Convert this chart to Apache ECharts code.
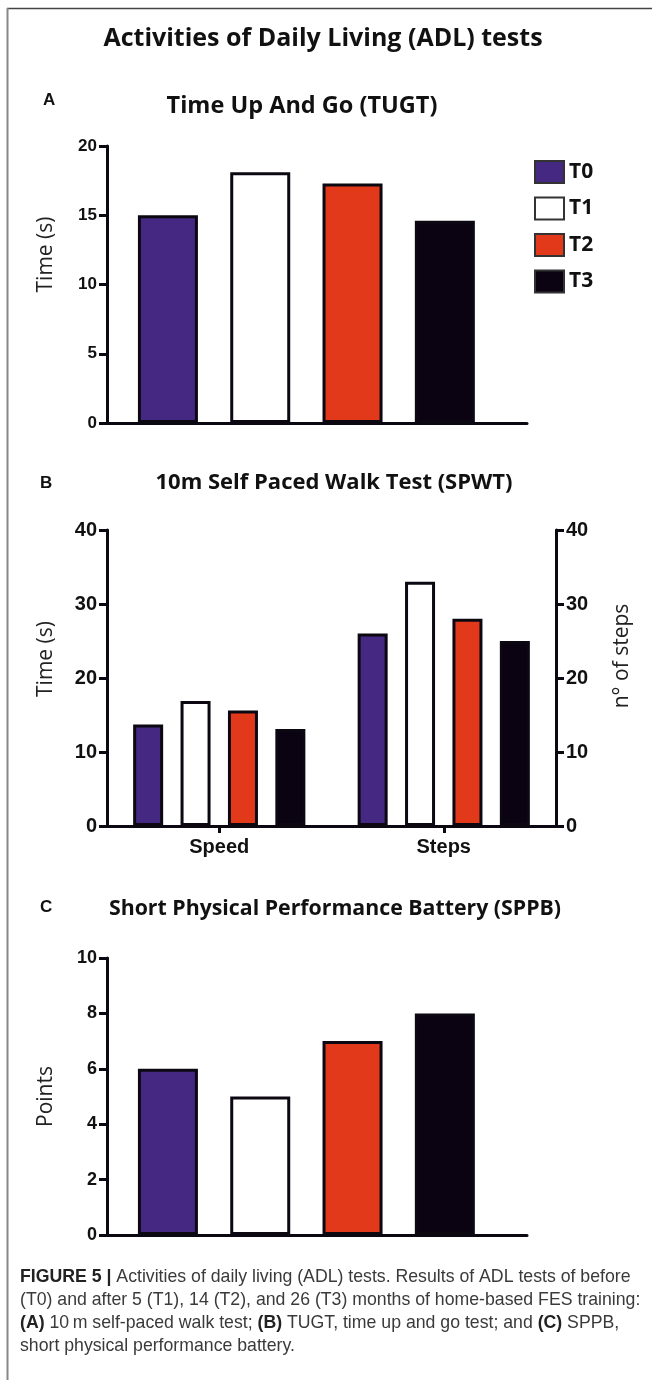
<!DOCTYPE html>
<html>
<head>
<meta charset="utf-8">
<script src="https://cdn.jsdelivr.net/npm/echarts@6/dist/echarts.min.js"></script>
<style>
  html, body { margin: 0; padding: 0; background: #ffffff; }
  #chart { width: 652px; height: 1380px; }
</style>
</head>
<body>
<div id="chart"></div>
<script>
// ---------- data ----------
const groups = ['T0', 'T1', 'T2', 'T3'];
const groupPositions = [1, 2, 3, 4];
const tugtTime = [15.0, 18.1, 17.3, 14.6];
const spwtCategories = ['Speed', 'Steps'];
const spwtSpeedTime = [13.7, 16.9, 15.6, 13.1];
const spwtSteps = [26, 33, 28, 25];
const sppbPoints = [6, 5, 7, 8];
const tugtTicks = [0, 20, 5];
const spwtTicks = [0, 40, 10];
const sppbTicks = [0, 10, 2];

// ---------- style ----------
const fills = ['#452882', '#ffffff', '#e2391b', '#0b0312'];
const edge = '#0c0812';
const tickFont = 'Liberation Sans, Arial, sans-serif';
const titleFont = 'Open Sans, sans-serif';

const chart = echarts.init(document.getElementById('chart'), null, { renderer: 'canvas' });

function yAxisBase(ticks, size) {
  return {
    type: 'value', min: ticks[0], max: ticks[1], interval: ticks[2],
    axisLine: { show: true, lineStyle: { color: edge, width: 3 } },
    axisTick: { show: true, length: 8, lineStyle: { color: edge, width: 3 } },
    axisLabel: { color: '#111', fontFamily: tickFont, fontWeight: 'bold', fontSize: size, margin: 10 },
    splitLine: { show: false },
    nameLocation: 'middle', nameRotate: 90,
    nameTextStyle: { fontFamily: titleFont, fontSize: 21, color: '#222' }
  };
}

const series = [];
groups.forEach((g, i) => {
  series.push({
    name: g, type: 'bar', xAxisIndex: 0, yAxisIndex: 0,
    data: [[groupPositions[i], tugtTime[i]]],
    barWidth: 60, barGap: '-100%',
    itemStyle: { color: fills[i], borderColor: edge, borderWidth: 3 }
  });
  series.push({
    name: g, type: 'bar', xAxisIndex: 1, yAxisIndex: 1,
    data: [spwtSpeedTime[i], spwtSteps[i]],
    barWidth: 30, barGap: '58%',
    itemStyle: { color: fills[i], borderColor: edge, borderWidth: 3 }
  });
  series.push({
    name: g, type: 'bar', xAxisIndex: 2, yAxisIndex: 3,
    data: [[groupPositions[i], sppbPoints[i]]],
    barWidth: 60, barGap: '-100%',
    itemStyle: { color: fills[i], borderColor: edge, borderWidth: 3 }
  });
});

const captionLines = [
  [['b', 'FIGURE 5 | '], ['r', 'Activities of daily living (ADL) tests. Results of ADL tests of before']],
  [['r', '(T0) and after 5 (T1), 14 (T2), and 26 (T3) months of home-based FES training:']],
  [['b', '(A) '], ['r', '10\u2009m self-paced walk test; '], ['b', '(B) '], ['r', 'TUGT, time up and go test; and '], ['b', '(C) '], ['r', 'SPPB,']],
  [['r', 'short physical performance battery.']]
];
const captionY = [1279, 1302, 1325, 1348];

const graphics = [
  { type: 'line', shape: { x1: 7, y1: 8.5, x2: 652, y2: 8.5 }, style: { stroke: '#444', lineWidth: 1.5 } },
  { type: 'line', shape: { x1: 7.5, y1: 8, x2: 7.5, y2: 1380 }, style: { stroke: '#888', lineWidth: 2 } }
];
captionLines.forEach((parts, k) => {
  graphics.push({
    type: 'text', left: 20, top: captionY[k] - 11,
    style: {
      text: parts.map(p => '{' + p[0] + '|' + p[1] + '}').join(''),
      rich: {
        b: { fontFamily: tickFont, fontWeight: 'bold', fontSize: 17.7, fill: '#222', lineHeight: 22 },
        r: { fontFamily: tickFont, fontSize: 17.7, fill: '#3a3a3a', lineHeight: 22 }
      }
    }
  });
});

function ttl(text, x, top, size, font, align) {
  return { text: text, left: x, top: top, textAlign: align, padding: 0,
    textStyle: { fontFamily: font, fontWeight: 'bold', fontSize: size, lineHeight: size, color: '#111' } };
}

const option = {
  animation: false,
  backgroundColor: '#ffffff',
  title: [
    ttl('Activities of Daily Living (ADL) tests', 323, 26.5, 25, titleFont, 'center'),
    ttl('A', 43, 92, 17, tickFont, 'left'),
    ttl('Time Up And Go (TUGT)', 302, 94.5, 23.5, titleFont, 'center'),
    ttl('B', 40, 475, 17, tickFont, 'left'),
    ttl('10m Self Paced Walk Test (SPWT)', 334, 471.5, 22, titleFont, 'center'),
    ttl('C', 40, 899, 17, tickFont, 'left'),
    ttl('Short Physical Performance Battery (SPPB)', 335, 898.5, 21.3, titleFont, 'center')
  ],
  legend: {
    data: groups, orient: 'vertical', left: 534, top: 160, padding: 0,
    itemWidth: 29, itemHeight: 22, itemGap: 12.5, icon: 'rect',
    itemStyle: { borderColor: '#333', borderWidth: 2 },
    textStyle: { fontFamily: titleFont, fontWeight: 'bold', fontSize: 21, lineHeight: 22, color: '#111' },
    selectedMode: false
  },
  grid: [
    { left: 107, top: 146, width: 420, height: 277 },
    { left: 107, top: 530, width: 449, height: 296 },
    { left: 107, top: 958, width: 420, height: 277 }
  ],
  xAxis: [
    { type: 'value', gridIndex: 0, min: 0.34, max: 4.89,
      axisLine: { show: true, onZero: false, lineStyle: { color: edge, width: 3 } },
      axisTick: { show: false }, axisLabel: { show: false }, splitLine: { show: false } },
    { type: 'category', gridIndex: 1, data: spwtCategories,
      axisLine: { show: true, lineStyle: { color: edge, width: 3 } },
      axisTick: { show: true, alignWithLabel: true, length: 7, lineStyle: { color: edge, width: 3 } },
      axisLabel: { color: '#111', fontFamily: tickFont, fontWeight: 'bold', fontSize: 20, margin: 11 } },
    { type: 'value', gridIndex: 2, min: 0.34, max: 4.89,
      axisLine: { show: true, onZero: false, lineStyle: { color: edge, width: 3 } },
      axisTick: { show: false }, axisLabel: { show: false }, splitLine: { show: false } }
  ],
  yAxis: [
    Object.assign(yAxisBase(tugtTicks, 17), { gridIndex: 0, name: 'Time (s)', nameGap: 50,
      nameTextStyle: { fontFamily: titleFont, fontSize: 21, color: '#222', padding: [0, 0, 0, 60] } }),
    Object.assign(yAxisBase(spwtTicks, 20), { gridIndex: 1, name: 'Time (s)', nameGap: 50,
      nameTextStyle: { fontFamily: titleFont, fontSize: 21, color: '#222', padding: [0, 0, 0, 38] } }),
    Object.assign(yAxisBase(spwtTicks, 20), { gridIndex: 1, position: 'right', name: 'n\u00b0 of steps', nameGap: 56,
      nameTextStyle: { fontFamily: titleFont, fontSize: 21, color: '#222', padding: [0, 0, 0, 44] } }),
    Object.assign(yAxisBase(sppbTicks, 18), { gridIndex: 2, name: 'Points', nameGap: 50 })
  ],
  series: series,
  graphic: graphics
};
chart.setOption(option);
</script>
</body>
</html>
